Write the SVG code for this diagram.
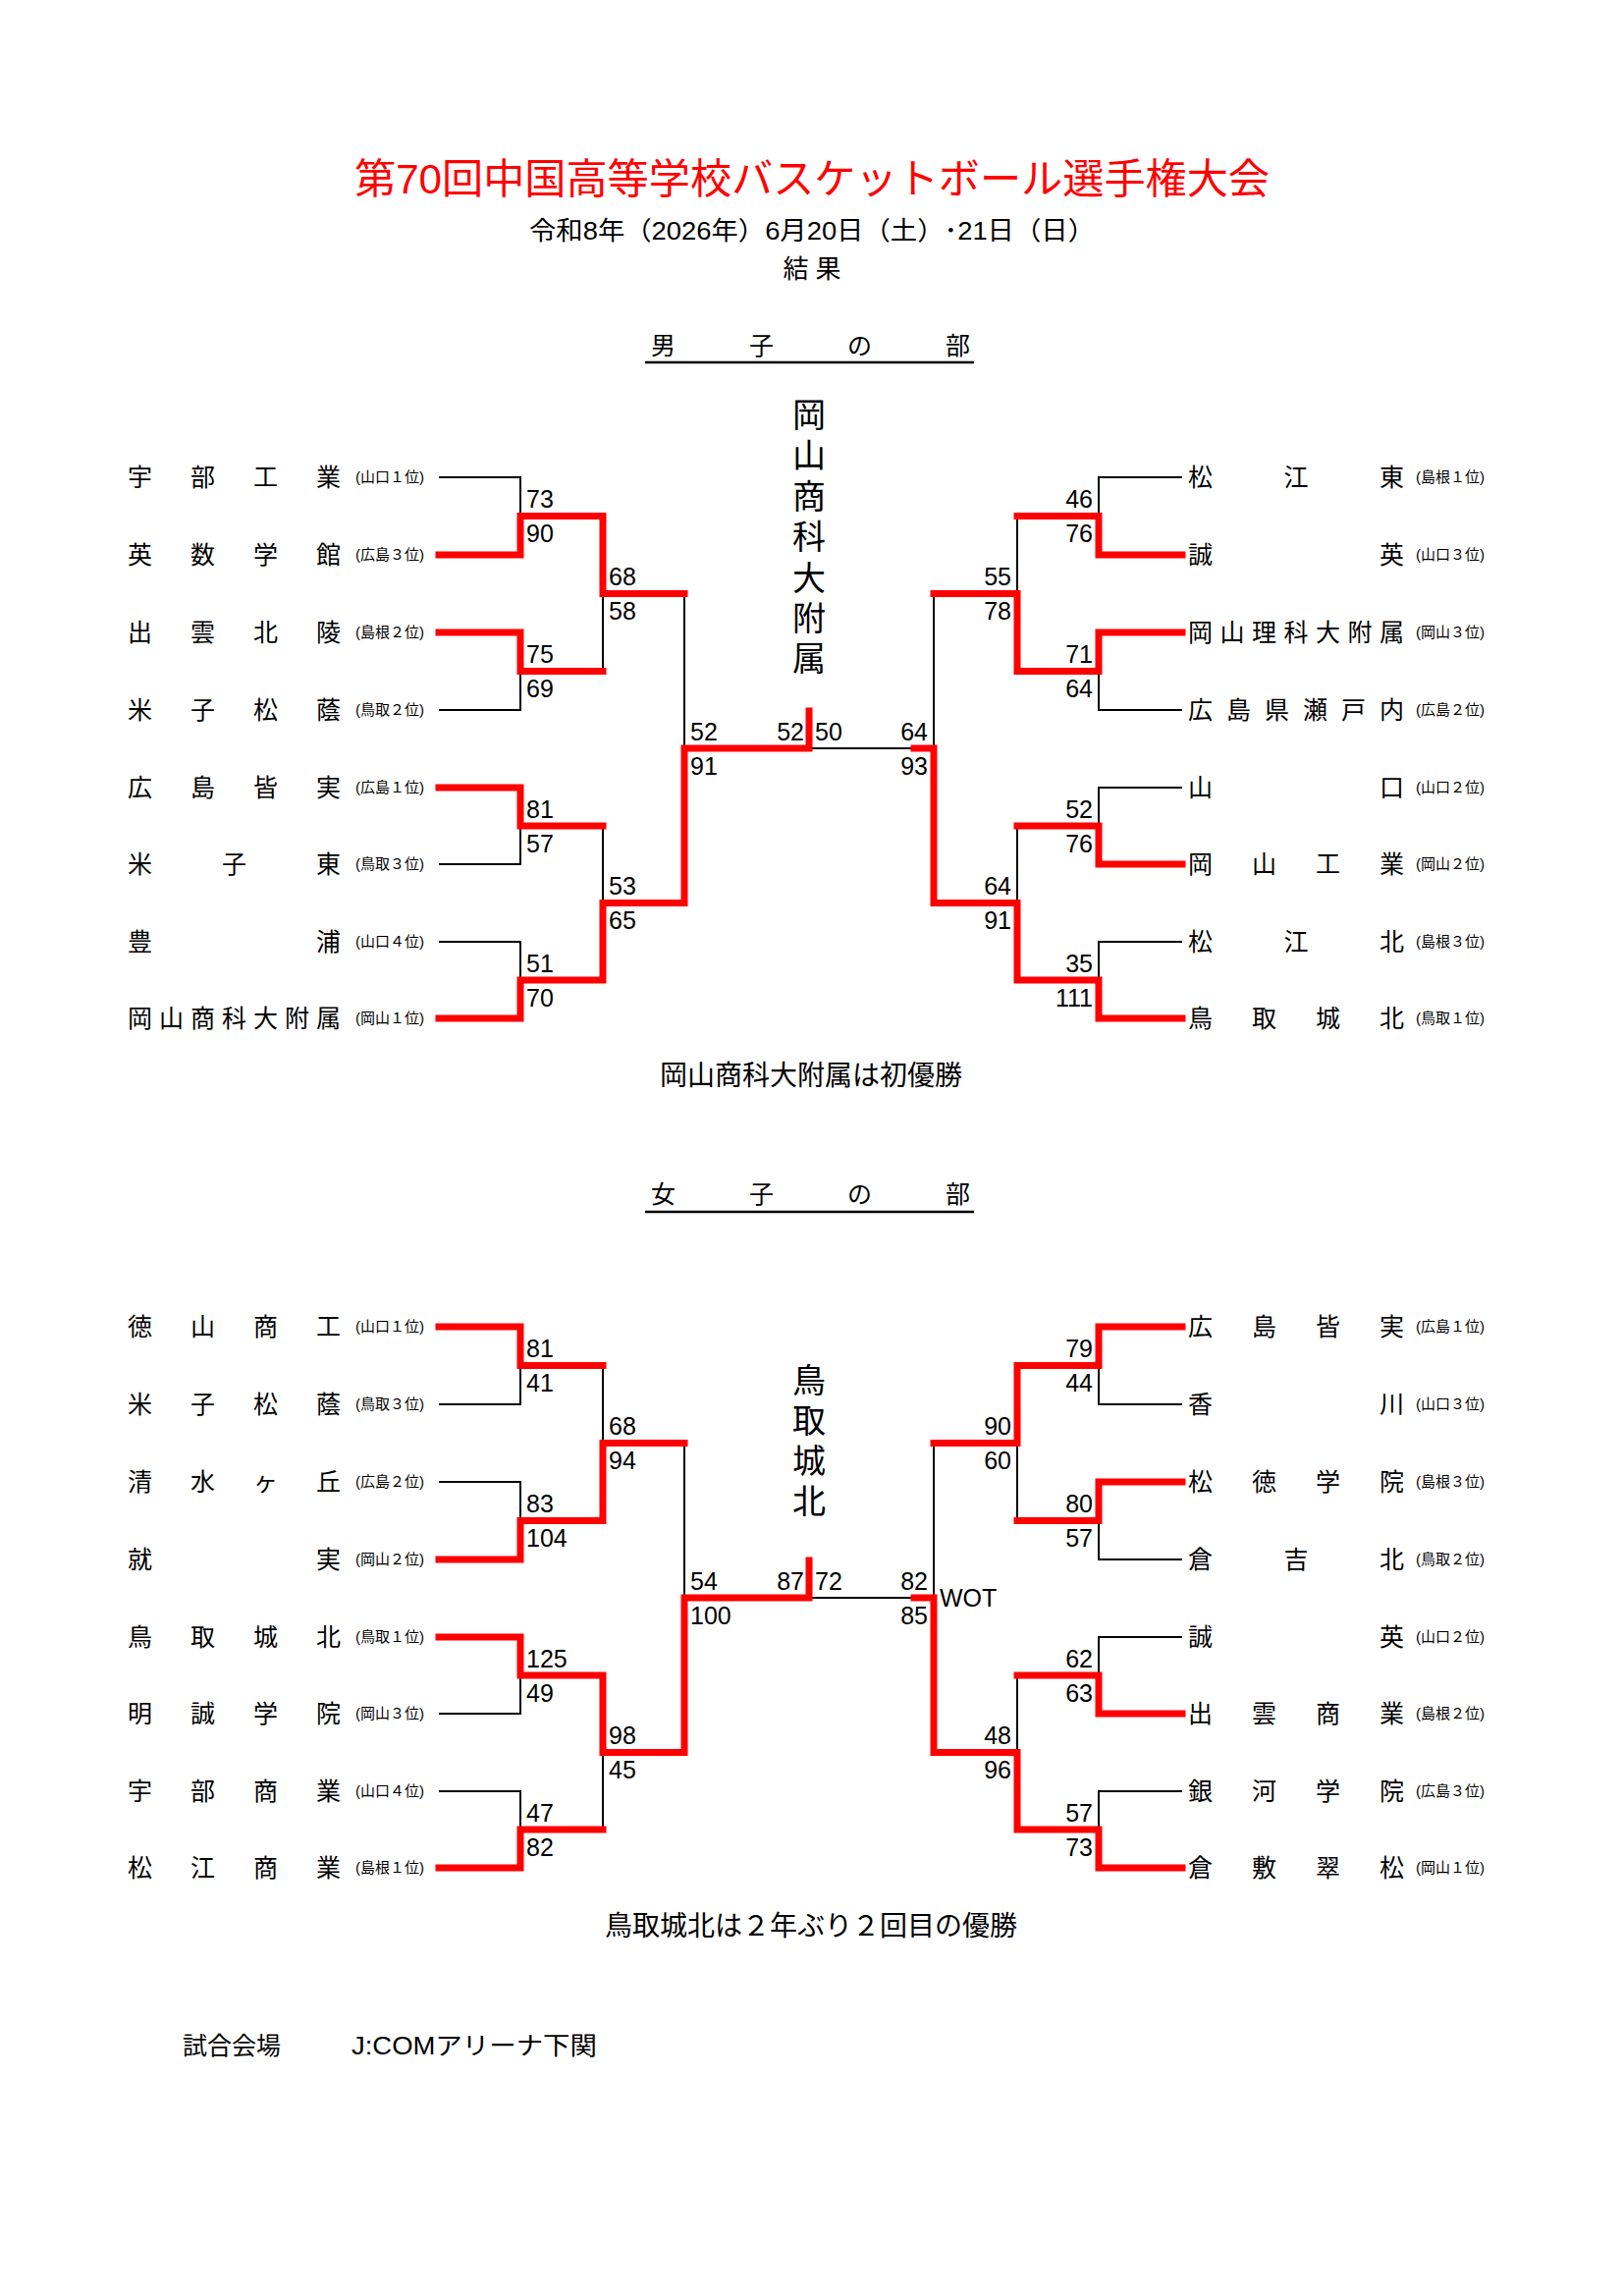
<svg xmlns="http://www.w3.org/2000/svg" width="1654" height="2338" viewBox="0 0 1654 2338">
<style>
text{font-family:"Liberation Sans","Noto Sans CJK JP",sans-serif;fill:#000}
.t{font-size:42px;fill:#f00;text-anchor:middle}
.h{font-size:26px;text-anchor:middle}
.c{font-size:28px;text-anchor:middle}
.n{font-size:25px}
.rk{font-size:15px}
.s{font-size:25px}
.sr{font-size:25px;text-anchor:end}
.v{font-size:34px;text-anchor:middle}
.b{fill:none;stroke:#000;stroke-width:2}
.r{fill:none;stroke:#f00;stroke-width:7;stroke-linejoin:miter;stroke-linecap:square}
</style>
<rect width="1654" height="2338" fill="#fff"/>
<g id="header">
<text class="t" x="827" y="197" textLength="932" lengthAdjust="spacingAndGlyphs">第70回中国高等学校バスケットボール選手権大会</text>
<text class="h" x="827" y="244" textLength="576" lengthAdjust="spacingAndGlyphs">令和8年（2026年）6月20日（土）･21日（日）</text>
<text class="h" x="827" y="283">結 果</text>
<text class="n" x="663" y="361" textLength="325" lengthAdjust="spacing">男子の部</text>
<line x1="657" y1="369" x2="992" y2="369" stroke="#000" stroke-width="2.5"/>
<text class="n" x="663" y="1225" textLength="325" lengthAdjust="spacing">女子の部</text>
<line x1="657" y1="1234" x2="992" y2="1234" stroke="#000" stroke-width="2.5"/>
</g>
<g id="connectors">
<path class="b" d="M447 486H530V565H447M447 644H530V723H447M447 802H530V880H447M447 959H530V1037H447M530 525.5H614V683.5H530M530 841H614V998H530M614 604.5H697V919.5H614M697 762H931M1204 486H1119V565H1204M1204 644H1119V723H1204M1204 802H1119V880H1204M1204 959H1119V1037H1204M1119 525.5H1036V683.5H1119M1119 841H1036V998H1119M1036 604.5H951V919.5H1036"/>
<path class="r" d="M447 565H530V525.5H614V604.5H697M447 644H530V683.5H614M447 802H530V841H614M447 1037H530V998H614V919.5H697V762H824V724M1204 565H1119V525.5H1036M1204 644H1119V683.5H1036V604.5H951M1204 880H1119V841H1036M1204 1037H1119V998H1036V919.5H951V762H931"/>
<path class="b" d="M447 1351H530V1430H447M447 1509H530V1588H447M447 1667H530V1745H447M447 1824H530V1902H447M530 1390.5H614V1548.5H530M530 1706H614V1863H530M614 1469.5H697V1784.5H614M697 1627H931M1204 1351H1119V1430H1204M1204 1509H1119V1588H1204M1204 1667H1119V1745H1204M1204 1824H1119V1902H1204M1119 1390.5H1036V1548.5H1119M1119 1706H1036V1863H1119M1036 1469.5H951V1784.5H1036"/>
<path class="r" d="M447 1351H530V1390.5H614M447 1588H530V1548.5H614V1469.5H697M447 1667H530V1706H614V1784.5H697V1627H824V1589M447 1902H530V1863H614M1204 1351H1119V1390.5H1036V1469.5H951M1204 1509H1119V1548.5H1036M1204 1745H1119V1706H1036M1204 1902H1119V1863H1036V1784.5H951V1627H931"/>
</g>
<g id="scores">
<text class="s" x="536" y="517">73</text><text class="s" x="536" y="552">90</text>
<text class="s" x="536" y="675">75</text><text class="s" x="536" y="710">69</text>
<text class="s" x="536" y="833">81</text><text class="s" x="536" y="868">57</text>
<text class="s" x="536" y="990">51</text><text class="s" x="536" y="1025">70</text>
<text class="s" x="620" y="596">68</text><text class="s" x="620" y="631">58</text>
<text class="s" x="620" y="911">53</text><text class="s" x="620" y="946">65</text>
<text class="s" x="703" y="754">52</text><text class="s" x="703" y="789">91</text>
<text class="sr" x="819" y="754">52</text><text class="s" x="830" y="754">50</text>
<text class="sr" x="1113" y="517">46</text><text class="sr" x="1113" y="552">76</text>
<text class="sr" x="1113" y="675">71</text><text class="sr" x="1113" y="710">64</text>
<text class="sr" x="1113" y="833">52</text><text class="sr" x="1113" y="868">76</text>
<text class="sr" x="1113" y="990">35</text><text class="sr" x="1113" y="1025">111</text>
<text class="sr" x="1030" y="596">55</text><text class="sr" x="1030" y="631">78</text>
<text class="sr" x="1030" y="911">64</text><text class="sr" x="1030" y="946">91</text>
<text class="sr" x="945" y="754">64</text><text class="sr" x="945" y="789">93</text>
<text class="s" x="536" y="1382">81</text><text class="s" x="536" y="1417">41</text>
<text class="s" x="536" y="1540">83</text><text class="s" x="536" y="1575">104</text>
<text class="s" x="536" y="1698">125</text><text class="s" x="536" y="1733">49</text>
<text class="s" x="536" y="1855">47</text><text class="s" x="536" y="1890">82</text>
<text class="s" x="620" y="1461">68</text><text class="s" x="620" y="1496">94</text>
<text class="s" x="620" y="1776">98</text><text class="s" x="620" y="1811">45</text>
<text class="s" x="703" y="1619">54</text><text class="s" x="703" y="1654">100</text>
<text class="sr" x="819" y="1619">87</text><text class="s" x="830" y="1619">72</text>
<text class="sr" x="1113" y="1382">79</text><text class="sr" x="1113" y="1417">44</text>
<text class="sr" x="1113" y="1540">80</text><text class="sr" x="1113" y="1575">57</text>
<text class="sr" x="1113" y="1698">62</text><text class="sr" x="1113" y="1733">63</text>
<text class="sr" x="1113" y="1855">57</text><text class="sr" x="1113" y="1890">73</text>
<text class="sr" x="1030" y="1461">90</text><text class="sr" x="1030" y="1496">60</text>
<text class="sr" x="1030" y="1776">48</text><text class="sr" x="1030" y="1811">96</text>
<text class="sr" x="945" y="1619">82</text><text class="sr" x="945" y="1654">85</text>
<text class="s" x="957" y="1636">WOT</text>
</g>
<g id="champions">
<text class="v" x="824" y="435">岡</text><text class="v" x="824" y="476">山</text><text class="v" x="824" y="518">商</text><text class="v" x="824" y="559">科</text><text class="v" x="824" y="601">大</text><text class="v" x="824" y="642">附</text><text class="v" x="824" y="683">属</text>
<text class="v" x="824" y="1418">鳥</text><text class="v" x="824" y="1459">取</text><text class="v" x="824" y="1500">城</text><text class="v" x="824" y="1541">北</text>
<text class="c" x="826" y="1105">岡山商科大附属は初優勝</text>
<text class="c" x="826" y="1971">鳥取城北は２年ぶり２回目の優勝</text>
</g>
<g id="teams-men-left">
<text class="n" x="130" y="495" textLength="217" lengthAdjust="spacing">宇部工業</text><text class="rk" x="362" y="491">(山口１位)</text>
<text class="n" x="130" y="574" textLength="217" lengthAdjust="spacing">英数学館</text><text class="rk" x="362" y="570">(広島３位)</text>
<text class="n" x="130" y="653" textLength="217" lengthAdjust="spacing">出雲北陵</text><text class="rk" x="362" y="649">(島根２位)</text>
<text class="n" x="130" y="732" textLength="217" lengthAdjust="spacing">米子松蔭</text><text class="rk" x="362" y="728">(鳥取２位)</text>
<text class="n" x="130" y="811" textLength="217" lengthAdjust="spacing">広島皆実</text><text class="rk" x="362" y="807">(広島１位)</text>
<text class="n" x="130" y="889" textLength="217" lengthAdjust="spacing">米子東</text><text class="rk" x="362" y="885">(鳥取３位)</text>
<text class="n" x="130" y="968" textLength="217" lengthAdjust="spacing">豊浦</text><text class="rk" x="362" y="964">(山口４位)</text>
<text class="n" x="130" y="1046" textLength="217" lengthAdjust="spacing">岡山商科大附属</text><text class="rk" x="362" y="1042">(岡山１位)</text>
</g>
<g id="teams-men-right">
<text class="n" x="1210" y="495" textLength="220" lengthAdjust="spacing">松江東</text><text class="rk" x="1442" y="491">(島根１位)</text>
<text class="n" x="1210" y="574" textLength="220" lengthAdjust="spacing">誠英</text><text class="rk" x="1442" y="570">(山口３位)</text>
<text class="n" x="1210" y="653" textLength="220" lengthAdjust="spacing">岡山理科大附属</text><text class="rk" x="1442" y="649">(岡山３位)</text>
<text class="n" x="1210" y="732" textLength="220" lengthAdjust="spacing">広島県瀬戸内</text><text class="rk" x="1442" y="728">(広島２位)</text>
<text class="n" x="1210" y="811" textLength="220" lengthAdjust="spacing">山口</text><text class="rk" x="1442" y="807">(山口２位)</text>
<text class="n" x="1210" y="889" textLength="220" lengthAdjust="spacing">岡山工業</text><text class="rk" x="1442" y="885">(岡山２位)</text>
<text class="n" x="1210" y="968" textLength="220" lengthAdjust="spacing">松江北</text><text class="rk" x="1442" y="964">(島根３位)</text>
<text class="n" x="1210" y="1046" textLength="220" lengthAdjust="spacing">鳥取城北</text><text class="rk" x="1442" y="1042">(鳥取１位)</text>
</g>
<g id="teams-women-left">
<text class="n" x="130" y="1360" textLength="217" lengthAdjust="spacing">徳山商工</text><text class="rk" x="362" y="1356">(山口１位)</text>
<text class="n" x="130" y="1439" textLength="217" lengthAdjust="spacing">米子松蔭</text><text class="rk" x="362" y="1435">(鳥取３位)</text>
<text class="n" x="130" y="1518" textLength="217" lengthAdjust="spacing">清水ヶ丘</text><text class="rk" x="362" y="1514">(広島２位)</text>
<text class="n" x="130" y="1597" textLength="217" lengthAdjust="spacing">就実</text><text class="rk" x="362" y="1593">(岡山２位)</text>
<text class="n" x="130" y="1676" textLength="217" lengthAdjust="spacing">鳥取城北</text><text class="rk" x="362" y="1672">(鳥取１位)</text>
<text class="n" x="130" y="1754" textLength="217" lengthAdjust="spacing">明誠学院</text><text class="rk" x="362" y="1750">(岡山３位)</text>
<text class="n" x="130" y="1833" textLength="217" lengthAdjust="spacing">宇部商業</text><text class="rk" x="362" y="1829">(山口４位)</text>
<text class="n" x="130" y="1911" textLength="217" lengthAdjust="spacing">松江商業</text><text class="rk" x="362" y="1907">(島根１位)</text>
</g>
<g id="teams-women-right">
<text class="n" x="1210" y="1360" textLength="220" lengthAdjust="spacing">広島皆実</text><text class="rk" x="1442" y="1356">(広島１位)</text>
<text class="n" x="1210" y="1439" textLength="220" lengthAdjust="spacing">香川</text><text class="rk" x="1442" y="1435">(山口３位)</text>
<text class="n" x="1210" y="1518" textLength="220" lengthAdjust="spacing">松徳学院</text><text class="rk" x="1442" y="1514">(島根３位)</text>
<text class="n" x="1210" y="1597" textLength="220" lengthAdjust="spacing">倉吉北</text><text class="rk" x="1442" y="1593">(鳥取２位)</text>
<text class="n" x="1210" y="1676" textLength="220" lengthAdjust="spacing">誠英</text><text class="rk" x="1442" y="1672">(山口２位)</text>
<text class="n" x="1210" y="1754" textLength="220" lengthAdjust="spacing">出雲商業</text><text class="rk" x="1442" y="1750">(島根２位)</text>
<text class="n" x="1210" y="1833" textLength="220" lengthAdjust="spacing">銀河学院</text><text class="rk" x="1442" y="1829">(広島３位)</text>
<text class="n" x="1210" y="1911" textLength="220" lengthAdjust="spacing">倉敷翠松</text><text class="rk" x="1442" y="1907">(岡山１位)</text>
</g>
<g id="footer">
<text class="n" x="186" y="2092">試合会場</text>
<text class="n" x="358" y="2092" textLength="250" lengthAdjust="spacingAndGlyphs">J:COMアリーナ下関</text>
</g>
</svg>
